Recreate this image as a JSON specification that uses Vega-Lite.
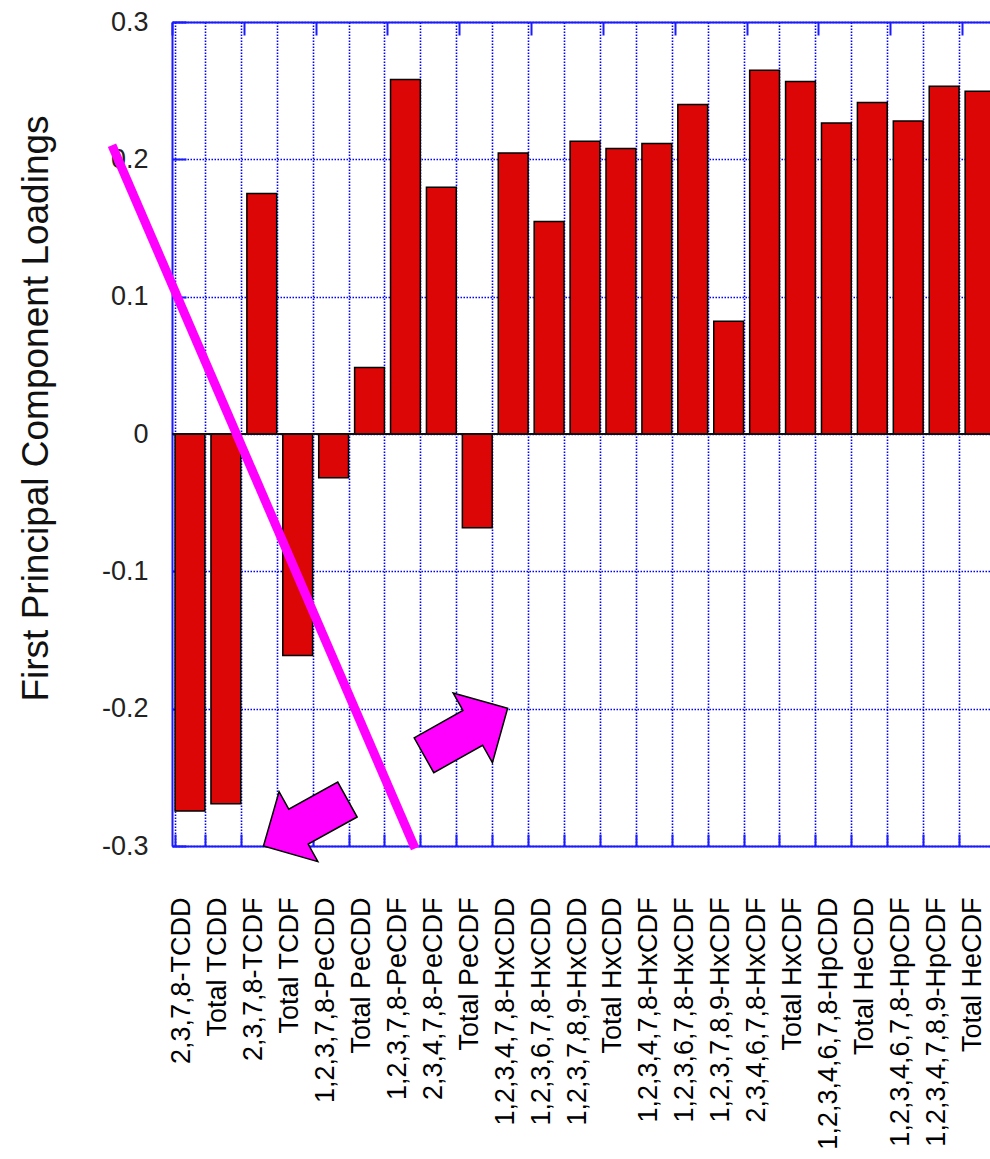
{
  "$schema": "https://vega.github.io/schema/vega-lite/v6.json",
  "width": 818,
  "height": 824,
  "autosize": {"type": "none"},
  "padding": {"left": 172, "top": 22, "right": 0, "bottom": 313},
  "background": "white",
  "config": {
    "view": {"stroke": null},
    "font": "Liberation Sans",
    "axis": {"labelFont": "Liberation Sans", "titleFont": "Liberation Sans"}
  },
  "resolve": {"scale": {"x": "independent"}},
  "layer": [
    {
      "data": {
        "values": [
          {"compound": "2,3,7,8-TCDD", "loading": -0.2746},
          {"compound": "Total TCDD", "loading": -0.2692},
          {"compound": "2,3,7,8-TCDF", "loading": 0.1751},
          {"compound": "Total TCDF", "loading": -0.1612},
          {"compound": "1,2,3,7,8-PeCDD", "loading": -0.0318},
          {"compound": "Total PeCDD", "loading": 0.0484},
          {"compound": "1,2,3,7,8-PeCDF", "loading": 0.2581},
          {"compound": "2,3,4,7,8-PeCDF", "loading": 0.1797},
          {"compound": "Total PeCDF", "loading": -0.0682},
          {"compound": "1,2,3,4,7,8-HxCDD", "loading": 0.2047},
          {"compound": "1,2,3,6,7,8-HxCDD", "loading": 0.1547},
          {"compound": "1,2,3,7,8,9-HxCDD", "loading": 0.2132},
          {"compound": "Total HxCDD", "loading": 0.2079},
          {"compound": "1,2,3,4,7,8-HxCDF", "loading": 0.2115},
          {"compound": "1,2,3,6,7,8-HxCDF", "loading": 0.2399},
          {"compound": "1,2,3,7,8,9-HxCDF", "loading": 0.0821},
          {"compound": "2,3,4,6,7,8-HxCDF", "loading": 0.2649},
          {"compound": "Total HxCDF", "loading": 0.2567},
          {"compound": "1,2,3,4,6,7,8-HpCDD", "loading": 0.2265},
          {"compound": "Total HeCDD", "loading": 0.2414},
          {"compound": "1,2,3,4,6,7,8-HpCDF", "loading": 0.2280},
          {"compound": "1,2,3,4,7,8,9-HpCDF", "loading": 0.2532},
          {"compound": "Total HeCDF", "loading": 0.2496}
        ]
      },
      "layer": [
        {
          "mark": {"type": "bar", "fill": "#dd0606", "stroke": "#000000", "strokeWidth": 1.5},
          "encoding": {
            "x": {
              "field": "compound",
              "type": "nominal",
              "sort": null,
              "scale": {"range": [0, 826], "paddingInner": 0.17, "paddingOuter": 0.085},
              "axis": {
                "title": null,
                "tickBand": "extent",
                "labelAngle": -90,
                "labelAlign": "right",
                "labelBaseline": "alphabetic",
                "labelFontSize": 27,
                "labelColor": "#000000",
                "labelPadding": 63,
                "labelLimit": 0,
                "labelOverlap": false,
                "tickSize": -12,
                "tickColor": "#1a1aff",
                "tickWidth": 2,
                "domainColor": "#1a1aff",
                "domainWidth": 2,
                "grid": true,
                "gridColor": "#0000ff",
                "gridDash": [1.5, 1.5],
                "gridWidth": 1.6,
                "gridOpacity": 1
              }
            },
            "y": {
              "field": "loading",
              "type": "quantitative",
              "scale": {"domain": [-0.3, 0.3], "nice": false, "zero": false},
              "axis": {
                "values": [-0.3, -0.2, -0.1, 0, 0.1, 0.2, 0.3],
                "labelExpr": "datum.value < 0 ? '-' + format(-datum.value, '.1~f') : format(datum.value, '.1~f')",
                "labelFontSize": 27,
                "labelColor": "#222222",
                "labelPadding": 38,
                "tickSize": -14,
                "tickColor": "#1a1aff",
                "tickWidth": 2,
                "domainColor": "#1a1aff",
                "domainWidth": 2,
                "grid": true,
                "gridColor": "#0000ff",
                "gridDash": [1.5, 1.5],
                "gridWidth": 1.6,
                "gridOpacity": 1,
                "title": "First Principal Component Loadings",
                "titleFontSize": 37,
                "titleFontWeight": "normal",
                "titleColor": "#111111",
                "titleAngle": -90,
                "titleAlign": "center",
                "titleBaseline": "alphabetic",
                "titleX": -125,
                "titleY": 386
              }
            }
          }
        },
        {
          "mark": {"type": "rule", "stroke": "#111111", "strokeWidth": 1.6},
          "encoding": {"y": {"datum": 0}}
        }
      ]
    },
    {
      "layer": [
        {
          "data": {"values": [{"u": -1.671, "v": 0.2103, "u2": 6.769, "v2": -0.3018}]},
          "mark": {"type": "rule", "stroke": "#ff00ff", "strokeWidth": 9, "strokeCap": "butt"},
          "encoding": {
            "x": {
              "field": "u",
              "type": "quantitative",
              "scale": {"domain": [0, 23], "range": [0, 826], "nice": false, "zero": false},
              "axis": {
                "orient": "top",
                "values": [0, 1, 2, 3, 4, 5, 6, 7, 8, 9, 10, 11, 12, 13, 14, 15, 16, 17, 18, 19, 20, 21, 22, 23],
                "labels": false,
                "grid": false,
                "title": null,
                "tickSize": -13,
                "tickColor": "#1a1aff",
                "tickWidth": 2,
                "domainColor": "#1a1aff",
                "domainWidth": 2
              }
            },
            "x2": {"field": "u2"},
            "y": {"field": "v", "type": "quantitative"},
            "y2": {"field": "v2"}
          }
        },
        {
          "data": {"values": [{"u": 3.716, "v": -0.2831}]},
          "mark": {
            "type": "point",
            "shape": "M -0.96 -0.4 L 0.16 -0.4 L 0.16 -0.8 L 0.96 0 L 0.16 0.8 L 0.16 0.4 L -0.96 0.4 Z",
            "size": 10000,
            "angle": 151,
            "filled": true,
            "fill": "#ff00ff",
            "stroke": "#000000",
            "strokeWidth": 1.5,
            "opacity": 1
          },
          "encoding": {
            "x": {"field": "u", "type": "quantitative"},
            "y": {"field": "v", "type": "quantitative"}
          }
        },
        {
          "data": {"values": [{"u": 8.181, "v": -0.2168}]},
          "mark": {
            "type": "point",
            "shape": "M -0.96 -0.4 L 0.16 -0.4 L 0.16 -0.8 L 0.96 0 L 0.16 0.8 L 0.16 0.4 L -0.96 0.4 Z",
            "size": 10000,
            "angle": 330.6,
            "filled": true,
            "fill": "#ff00ff",
            "stroke": "#000000",
            "strokeWidth": 1.5,
            "opacity": 1
          },
          "encoding": {
            "x": {"field": "u", "type": "quantitative"},
            "y": {"field": "v", "type": "quantitative"}
          }
        }
      ]
    }
  ]
}
